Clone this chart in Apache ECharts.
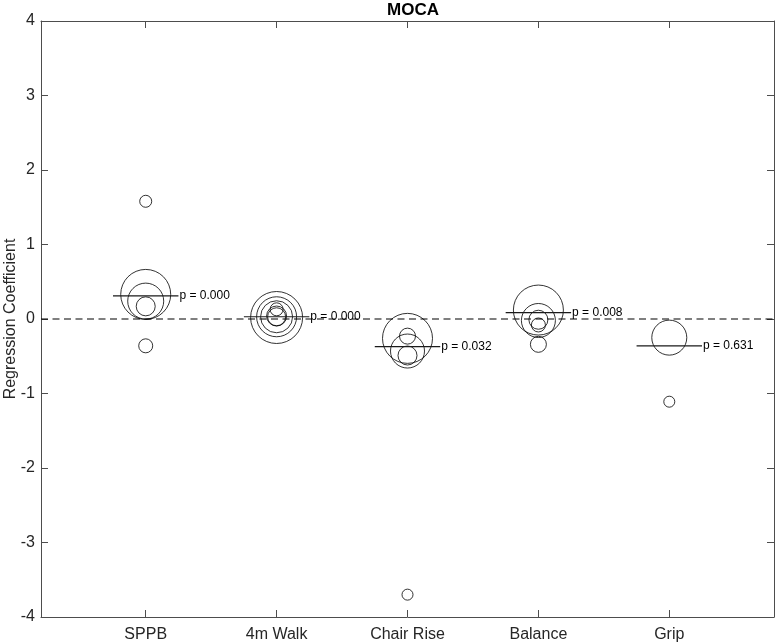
<!DOCTYPE html>
<html><head><meta charset="utf-8">
<script src="https://cdn.jsdelivr.net/npm/echarts@6/dist/echarts.min.js"></script>
<style>html,body{margin:0;padding:0;background:#fff}#c{width:776px;height:644px}</style>
</head><body><div id="c"></div>
<script>
const categories = ['SPPB', '4m Walk', 'Chair Rise', 'Balance', 'Grip'];
const categoryPos = [1, 2, 3, 4, 5];
// individual study estimates
const studyCategory = [1, 1, 1, 1, 1, 2, 2, 2, 2, 2, 2, 3, 3, 3, 3, 3, 4, 4, 4, 4, 4, 5, 5];
const studyCoef = [1.58, 0.33, 0.24, 0.17, -0.36, 0.02, 0.03, 0.03, 0.13, 0.04, 0.03, -0.26, -0.43, -0.23, -0.49, -3.70, 0.12, -0.02, -0.01, -0.08, -0.34, -0.25, -1.11];
const studyWeight = [6, 25, 18, 9.5, 7, 26, 20, 16, 6.5, 10, 9, 25, 17, 8, 9.5, 5.5, 25, 17, 9.5, 7, 8, 17.5, 5.5];
// pooled estimates
const pooledCoef = [0.31, 0.03, -0.37, 0.085, -0.36];
const pValues = ['0.000', '0.000', '0.032', '0.008', '0.631'];

const axisColor = '#4d4d4d';
const textColor = '#262626';
const font = 'Arial, "Liberation Sans", Helvetica, sans-serif';

const chart = echarts.init(document.getElementById('c'), null, {renderer: 'canvas'});

const studyData = studyCoef.map((v, i) => [studyCategory[i], v, studyWeight[i]]);
const pooledData = pooledCoef.map((v, i) => [categoryPos[i], v]);

const xBase = {
  type: 'value', min: 0.2, max: 5.8,
  axisLine: {show: true, onZero: false, lineStyle: {color: axisColor, width: 1}},
  axisTick: {show: true, inside: true, length: 7, customValues: categoryPos, lineStyle: {color: axisColor}},
  splitLine: {show: false}
};
const yBase = {
  type: 'value', min: -4, max: 4, interval: 1,
  axisLine: {show: true, onZero: false, lineStyle: {color: axisColor, width: 1}},
  axisTick: {show: true, inside: true, length: 7, lineStyle: {color: axisColor}},
  splitLine: {show: false}
};

chart.setOption({
  animation: false,
  backgroundColor: '#fff',
  title: {
    text: 'MOCA', left: 408, top: -3, textAlign: 'center',
    textStyle: {fontSize: 17, fontWeight: 'bold', color: '#000', fontFamily: font}
  },
  grid: {left: 41, right: 2, top: 21, bottom: 27, containLabel: false, outerBoundsMode: 'none'},
  xAxis: [
    Object.assign({}, xBase, {
      position: 'bottom',
      axisLabel: {customValues: categoryPos, formatter: v => categories[Math.round(v) - 1], fontSize: 16, color: textColor, fontFamily: font, margin: 10}
    }),
    Object.assign({}, xBase, {position: 'top', axisLabel: {show: false}})
  ],
  yAxis: [
    Object.assign({}, yBase, {
      position: 'left',
      name: 'Regression Coefficient', nameLocation: 'middle', nameRotate: 90, nameGap: 22,
      nameMoveOverlap: false,
      nameTextStyle: {fontSize: 16, color: textColor, fontFamily: font},
      axisLabel: {fontSize: 16, color: textColor, fontFamily: font, margin: 6}
    }),
    Object.assign({}, yBase, {position: 'right', axisLabel: {show: false}})
  ],
  series: [
    {
      type: 'line', xAxisIndex: 0, yAxisIndex: 0,
      data: [[0.2, 0], [5.8, 0]], symbol: 'none', silent: true,
      lineStyle: {color: '#000', width: 1.2, type: [7, 4.5]}, z: 1
    },
    {
      type: 'scatter', xAxisIndex: 0, yAxisIndex: 0,
      data: studyData,
      symbol: 'circle',
      symbolSize: v => v[2] * 2,
      itemStyle: {color: 'rgba(0,0,0,0)', borderColor: '#000', borderWidth: 1},
      z: 3
    },
    {
      type: 'custom', xAxisIndex: 0, yAxisIndex: 0,
      data: pooledData,
      renderItem: function (params, api) {
        const x = api.value(0), y = api.value(1);
        const p1 = api.coord([x - 0.25, y]);
        const p2 = api.coord([x + 0.25, y]);
        return {
          type: 'group',
          children: [
            {type: 'line', shape: {x1: p1[0], y1: p1[1], x2: p2[0], y2: p2[1]}, style: {stroke: '#1a1a1a', lineWidth: 1.2}},
            {type: 'text', x: p2[0] + 1, y: p2[1], style: {text: 'p = ' + pValues[params.dataIndex], fill: '#000', font: '12px ' + font, align: 'left', verticalAlign: 'middle'}}
          ]
        };
      },
      z: 4
    }
  ]
});
</script>
</body></html>
